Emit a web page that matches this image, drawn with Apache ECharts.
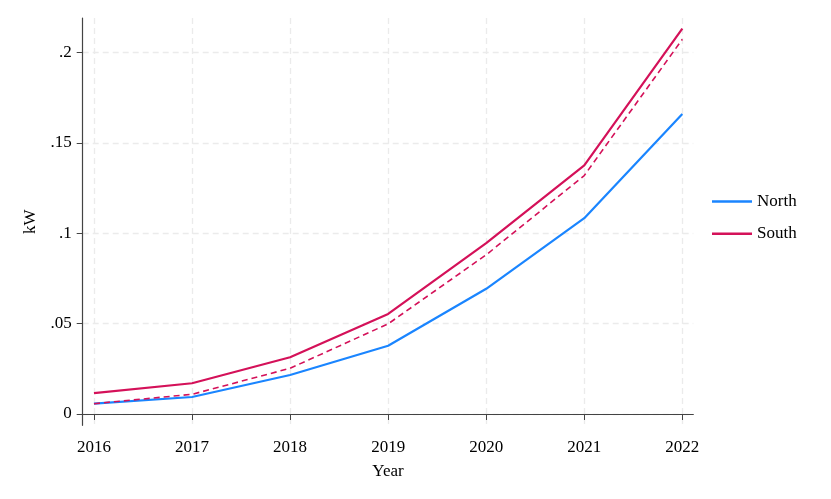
<!DOCTYPE html>
<html>
<head>
<meta charset="utf-8">
<script src="https://cdn.jsdelivr.net/npm/echarts@6/dist/echarts.min.js"></script>
<style>html,body{margin:0;padding:0;background:#fff;}#c{width:831px;height:499px;}</style>
</head>
<body>
<div id="c"></div>
<script>
const years = [2016, 2017, 2018, 2019, 2020, 2021, 2022];
const yTicks = [0, 0.05, 0.1, 0.15, 0.2];
const north = [0.0057, 0.0094, 0.0216, 0.0378, 0.0693, 0.1084, 0.166];
const south = [0.0116, 0.017, 0.0314, 0.0554, 0.0946, 0.1376, 0.2133];
const southDashed = [0.0057, 0.0109, 0.0253, 0.0499, 0.0881, 0.132, 0.2074];

const FONT = 'Liberation Serif';
const BLUE = '#1a85ff';
const RED = '#d41159';
const pair = (xs, ys) => xs.map((x, i) => [x, ys[i]]);

const chart = echarts.init(document.getElementById('c'), null, {renderer: 'canvas'});
chart.setOption({
  animation: false,
  backgroundColor: '#fff',
  textStyle: {fontFamily: FONT, color: '#000'},
  grid: {left: 82.7, right: 137.7, top: 18, bottom: 73.7},
  legend: {
    orient: 'vertical', left: 707, top: 187.5,
    icon: 'rect', itemWidth: 40, itemHeight: 2.5, itemGap: 14.3,
    data: [{name: 'North', itemStyle: {color: BLUE}}, {name: 'South', itemStyle: {color: RED}}],
    textStyle: {fontFamily: FONT, fontSize: 17, color: '#000', lineHeight: 18}
  },
  xAxis: {
    type: 'value', min: 2015.885, max: 2022.112,
    name: 'Year', nameLocation: 'middle', nameGap: 37.5,
    nameTextStyle: {fontFamily: FONT, fontSize: 17, color: '#000'},
    axisLine: {show: true, lineStyle: {color: '#444', width: 1.2}},
    axisTick: {show: true, customValues: years, length: 6, lineStyle: {color: '#444'}},
    axisLabel: {customValues: years, fontFamily: FONT, fontSize: 17, color: '#000', margin: 14,
      formatter: v => String(v)},
    splitLine: {show: true, lineStyle: {color: '#ebebeb', type: [6, 4], width: 1.3}}
  },
  yAxis: {
    type: 'value', min: -0.00626, max: 0.2192,
    name: 'kW', nameLocation: 'middle', nameGap: 44,
    nameTextStyle: {fontFamily: FONT, fontSize: 17, color: '#000'},
    axisLine: {show: true, lineStyle: {color: '#444', width: 1.2}},
    axisTick: {show: true, customValues: yTicks, length: 6, lineStyle: {color: '#444'}},
    axisLabel: {
      customValues: yTicks, fontFamily: FONT, fontSize: 17, color: '#000', margin: 11,
      formatter: v => v === 0 ? '0' : String(v).replace(/^0/, '')
    },
    splitLine: {show: true, lineStyle: {color: '#ebebeb', type: [6, 4], width: 1.3}}
  },
  series: [
    {name: 'North', type: 'line', data: pair(years, north), symbol: 'none',
     lineStyle: {color: BLUE, width: 2.2}, itemStyle: {color: BLUE}},
    {name: 'South', type: 'line', data: pair(years, south), symbol: 'none',
     lineStyle: {color: RED, width: 2.2}, itemStyle: {color: RED}},
    {name: 'South (dashed)', type: 'line', data: pair(years, southDashed), symbol: 'none',
     lineStyle: {color: RED, width: 1.6, type: [6, 4]}, itemStyle: {color: RED}}
  ]
});
</script>
</body>
</html>
